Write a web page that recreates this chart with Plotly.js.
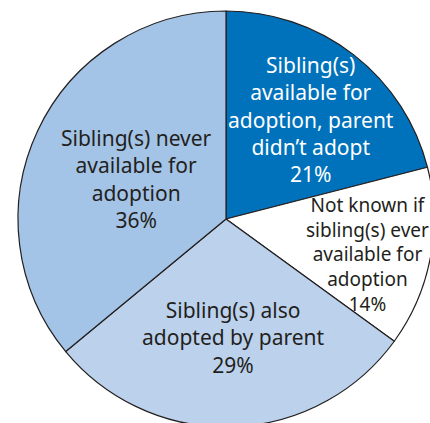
<!DOCTYPE html>
<html>
<head>
<meta charset="utf-8">
<script src="https://cdn.plot.ly/plotly-3.0.1.min.js"></script>
<style>
html,body{margin:0;padding:0;overflow:hidden;background:#fff;}
#chart{width:440px;height:430px;}
</style>
</head>
<body>
<div id="chart"></div>
<script>
const labels = [
  "Sibling(s)<br>available for<br>adoption, parent<br>didn’t adopt",
  "Not known if<br>sibling(s) ever<br>available for<br>adoption",
  "Sibling(s) also<br>adopted by parent",
  "Sibling(s) never<br>available for<br>adoption"
];
const values = [21, 14, 29, 36];
const colors = ["#0072bc", "#ffffff", "#bcd2ec", "#a3c4e6"];
const textColors = ["#ffffff", "#231f20", "#231f20", "#231f20"];

// layout constants (pixels)
const W = 440, H = 430, CX = 226, CY = 219, R = 208;
const labelRadius = [0.63, 0.70, 0.57, 0.47];
const labelAngleNudge = [2.5, 3.5, -1.6, -1];
const labelSize = [21, 19, 21, 21];

const total = values.reduce((a, b) => a + b, 0);
let cum = 0;
const annotations = values.map((v, i) => {
  const mid = (cum + v / 2) / total * 360 + labelAngleNudge[i];
  cum += v;
  const a = mid * Math.PI / 180;
  const d = labelRadius[i] * R;
  const px = CX + d * Math.sin(a);
  const py = CY - d * Math.cos(a);
  return {
    xref: "paper", yref: "paper",
    x: px / W, y: (H - py) / H,
    xanchor: "center", yanchor: "middle",
    showarrow: false,
    align: "center",
    text: labels[i] + "<br>" + v + "%",
    font: {family: "Noto Sans", size: labelSize[i], color: textColors[i]}
  };
});

const trace = {
  type: "pie",
  labels: labels,
  values: values,
  sort: false,
  direction: "clockwise",
  rotation: 0,
  marker: {colors: colors, line: {color: "#231f20", width: 1.2}},
  textinfo: "none",
  hoverinfo: "none",
  showlegend: false,
  domain: {x: [(CX - R) / W, (CX + R) / W], y: [(H - CY - R) / H, (H - CY + R) / H]}
};

Plotly.newPlot("chart", [trace], {
  width: W, height: H,
  margin: {l: 0, r: 0, t: 0, b: 0},
  paper_bgcolor: "#ffffff",
  showlegend: false,
  annotations: annotations
}, {displayModeBar: false, staticPlot: true});
</script>
</body>
</html>
